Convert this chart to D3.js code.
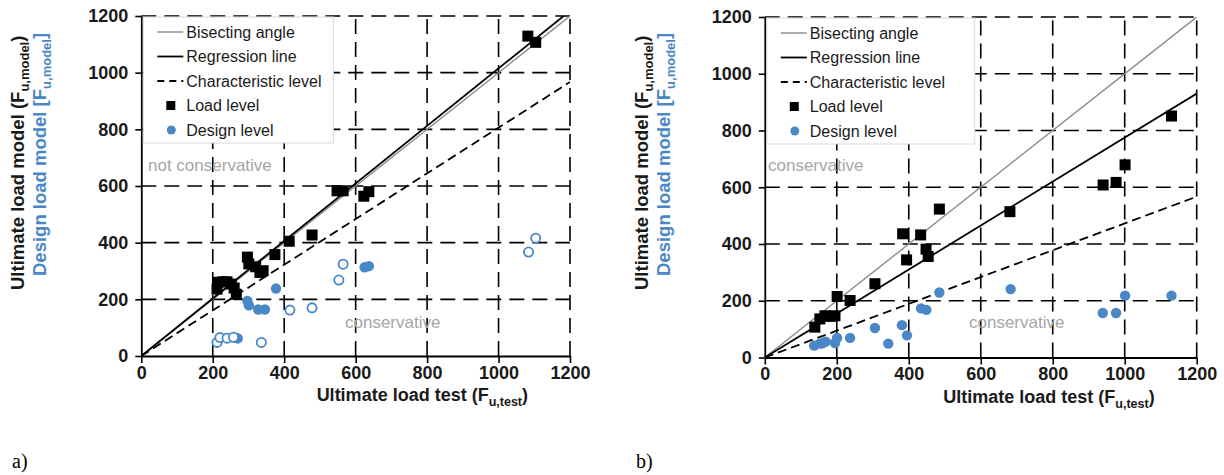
<!DOCTYPE html>
<html>
<head>
<meta charset="utf-8">
<script src="https://cdn.jsdelivr.net/npm/d3@7"></script>
<style>
  body { margin: 0; background: #fff; }
  svg { display: block; font-family: "Liberation Sans", Arial, sans-serif; }
</style>
</head>
<body>
<svg width="1224" height="475"></svg>
<script>
let ticks = [0, 200, 400, 600, 800, 1000, 1200];

// panel a)
let aLoad = [[212,236],[214,260],[228,262],[240,262],[252,254],[260,240],[266,218],
  [297,349],[301,325],[320,315],[332,295],[341,301],[374,358],[414,405],[478,427],
  [548,583],[565,583],[623,564],[637,580],[1082,1129],[1104,1107]];
let aDesign = [[266,64],[270,62],[297,194],[301,179],[327,164],[346,164],[377,238],[625,313],[637,317]];
let aDesignOpen = [[212,48],[220,65],[240,63],[258,66],[336,48],[416,162],[478,170],
  [553,268],[565,324],[1084,367],[1104,416]];
let aBisect = [[0,0],[1200,1200]];
let aRegression = [[0,0],[1200,1218]];
let aCharacteristic = [[0,0],[1200,967]];

// panel b)
let bLoad = [[139,107],[153,136],[167,147],[181,145],[195,147],[201,215],[237,201],
  [306,260],[383,436],[394,344],[433,432],[448,382],[454,356],[485,523],[681,514],
  [940,608],[976,617],[1001,679],[1130,851]];
let bDesign = [[137,42],[153,49],[160,50],[169,56],[195,51],[201,69],[237,69],[306,104],
  [343,49],[381,114],[395,78],[434,173],[449,168],[485,229],[683,241],[939,157],
  [976,157],[1001,218],[1130,218]];
let bBisect = [[0,0],[1200,1200]];
let bRegression = [[0,0],[1200,930]];
let bCharacteristic = [[0,0],[1200,567]];

let legendNames = ["Bisecting angle", "Regression line", "Characteristic level", "Load level", "Design level"];

let blue = "#4a87c7";
let grey = "#a6a6a6";

let svg = d3.select("svg");

let drawPanel = (p) => {
  let xScale = d3.scaleLinear().domain([0, 1200]).range([p.left, p.right]);
  let yScale = d3.scaleLinear().domain([0, 1200]).range([p.bottom, p.top]);
  let g = svg.append("g");

  // dashed grid
  g.selectAll(".vgrid").data(ticks.slice(1)).enter().append("line")
    .attr("x1", (d) => xScale(d)).attr("x2", (d) => xScale(d))
    .attr("y1", p.bottom).attr("y2", p.top)
    .attr("stroke", "#000").attr("stroke-width", 1.6).attr("stroke-dasharray", "15,8");
  g.selectAll(".hgrid").data(ticks.slice(1)).enter().append("line")
    .attr("y1", (d) => yScale(d)).attr("y2", (d) => yScale(d))
    .attr("x1", p.left).attr("x2", p.right)
    .attr("stroke", "#000").attr("stroke-width", 1.6).attr("stroke-dasharray", "15,8");

  let xAxis = d3.axisBottom(xScale).tickValues(ticks).tickFormat(d3.format("d")).tickSize(7).tickSizeOuter(0);
  let yAxis = d3.axisLeft(yScale).tickValues(ticks).tickFormat(d3.format("d")).tickSize(6).tickSizeOuter(0);

  let gx = g.append("g").attr("transform", "translate(0," + p.bottom + ")").call(xAxis);
  let gy = g.append("g").attr("transform", "translate(" + p.left + ",0)").call(yAxis);
  [gx, gy].forEach((ax) => {
    ax.select(".domain").attr("stroke", "#000").attr("stroke-width", 1.8);
    ax.selectAll(".tick line").attr("stroke", "#000").attr("stroke-width", 1.6);
    ax.selectAll(".tick text").attr("fill", "#1a1a1a")
      .style("font-size", "18px").style("font-weight", "bold")
      .style("font-family", "'Liberation Sans', Arial, sans-serif");
  });
  gx.selectAll(".tick text").attr("y", 10);
  gy.selectAll(".tick text").attr("x", -13);

  let line = d3.line().x((d) => xScale(d[0])).y((d) => yScale(d[1]));
  g.append("clipPath").attr("id", "clip" + p.id).append("rect")
    .attr("x", p.left).attr("y", p.top).attr("width", p.right - p.left).attr("height", p.bottom - p.top);
  let lines = g.append("g").attr("clip-path", "url(#clip" + p.id + ")");
  lines.append("path").attr("d", line(p.bisect)).attr("fill", "none")
    .attr("stroke", "#8c8c8c").attr("stroke-width", 1.4);
  lines.append("path").attr("d", line(p.regression)).attr("fill", "none")
    .attr("stroke", "#000").attr("stroke-width", 1.8);
  lines.append("path").attr("d", line(p.characteristic)).attr("fill", "none")
    .attr("stroke", "#000").attr("stroke-width", 1.8).attr("stroke-dasharray", "9,5");

  // points
  g.selectAll(".design").data(p.design).enter().append("circle")
    .attr("cx", (d) => xScale(d[0])).attr("cy", (d) => yScale(d[1])).attr("r", 5.2)
    .attr("fill", blue);
  g.selectAll(".designOpen").data(p.designOpen).enter().append("circle")
    .attr("cx", (d) => xScale(d[0])).attr("cy", (d) => yScale(d[1])).attr("r", 4.6)
    .attr("fill", "#fff").attr("stroke", blue).attr("stroke-width", 1.8);
  g.selectAll(".load").data(p.load).enter().append("rect")
    .attr("x", (d) => xScale(d[0]) - 5.5).attr("y", (d) => yScale(d[1]) - 5.5)
    .attr("width", 11).attr("height", 11).attr("fill", "#000");

  // legend
  let lg = g.append("g").attr("transform", "translate(" + (p.left + 2) + "," + (p.top + 1) + ")");
  lg.append("rect").attr("width", p.legendWidth).attr("height", 126)
    .attr("fill", "#fff").attr("stroke", "#d9d9d9").attr("stroke-width", 1);
  legendNames.forEach((name, i) => {
    let cy = 15 + i * 24.5;
    if (i < 3) {
      lg.append("line").attr("x1", 14).attr("x2", 40).attr("y1", cy).attr("y2", cy)
        .attr("stroke", i == 0 ? "#8c8c8c" : "#000").attr("stroke-width", i == 0 ? 1.4 : 1.8)
        .attr("stroke-dasharray", i == 2 ? "7,5" : null);
    } else if (i == 3) {
      lg.append("rect").attr("x", 23).attr("y", cy - 4.5).attr("width", 9).attr("height", 9).attr("fill", "#000");
    } else {
      lg.append("circle").attr("cx", 28).attr("cy", cy).attr("r", 4.5).attr("fill", blue);
    }
    lg.append("text").attr("x", 43).attr("y", cy + 5.5).text(name)
      .style("font-size", "16px").attr("fill", "#1a1a1a");
  });

  // conservative zones
  p.notes.forEach((n) => {
    g.append("text").attr("x", n.x).attr("y", n.y).text(n.text)
      .style("font-size", "17px").attr("fill", grey);
  });

  // axis titles
  let xt = g.append("text").attr("x", p.right - 42).attr("y", p.bottom + 45)
    .attr("text-anchor", "end").attr("fill", "#1a1a1a")
    .style("font-size", "18px").style("font-weight", "bold");
  xt.append("tspan").text("Ultimate load test (F");
  xt.append("tspan").text("u,test").style("font-size", "12.5px").attr("dy", 5);
  xt.append("tspan").text(")").attr("dy", -5);

  let yt1 = g.append("text").attr("transform", "translate(" + (p.left - 117) + ",290) rotate(-90)")
    .attr("fill", "#1a1a1a").style("font-size", "18.5px").style("font-weight", "bold");
  yt1.append("tspan").text("Ultimate load model (F");
  yt1.append("tspan").text("u,model").style("font-size", "13px").attr("dy", 5);
  yt1.append("tspan").text(")").attr("dy", -5);

  let yt2 = g.append("text").attr("transform", "translate(" + (p.left - 95) + ",276) rotate(-90)")
    .attr("fill", blue).style("font-size", "18.5px").style("font-weight", "bold");
  yt2.append("tspan").text("Design load model [F");
  yt2.append("tspan").text("u,model").style("font-size", "13px").attr("dy", 5);
  yt2.append("tspan").text("]").attr("dy", -5);

  svg.append("text").attr("x", p.labelX).attr("y", 468).text(p.label)
    .style("font-family", "'Liberation Serif', 'Times New Roman', serif").style("font-size", "20px");
};

drawPanel({
  id: "a", left: 141.3, right: 570, top: 16, bottom: 356, legendWidth: 190,
  load: aLoad, design: aDesign, designOpen: aDesignOpen,
  bisect: aBisect, regression: aRegression, characteristic: aCharacteristic,
  notes: [{ text: "not conservative", x: 148, y: 171 }, { text: "conservative", x: 345, y: 328 }],
  label: "a)", labelX: 12
});

drawPanel({
  id: "b", left: 764.8, right: 1196.7, top: 17, bottom: 357.5, legendWidth: 208,
  load: bLoad, design: bDesign, designOpen: [],
  bisect: bBisect, regression: bRegression, characteristic: bCharacteristic,
  notes: [{ text: "conservative", x: 768, y: 171 }, { text: "conservative", x: 969, y: 328 }],
  label: "b)", labelX: 636
});
</script>
</body>
</html>
